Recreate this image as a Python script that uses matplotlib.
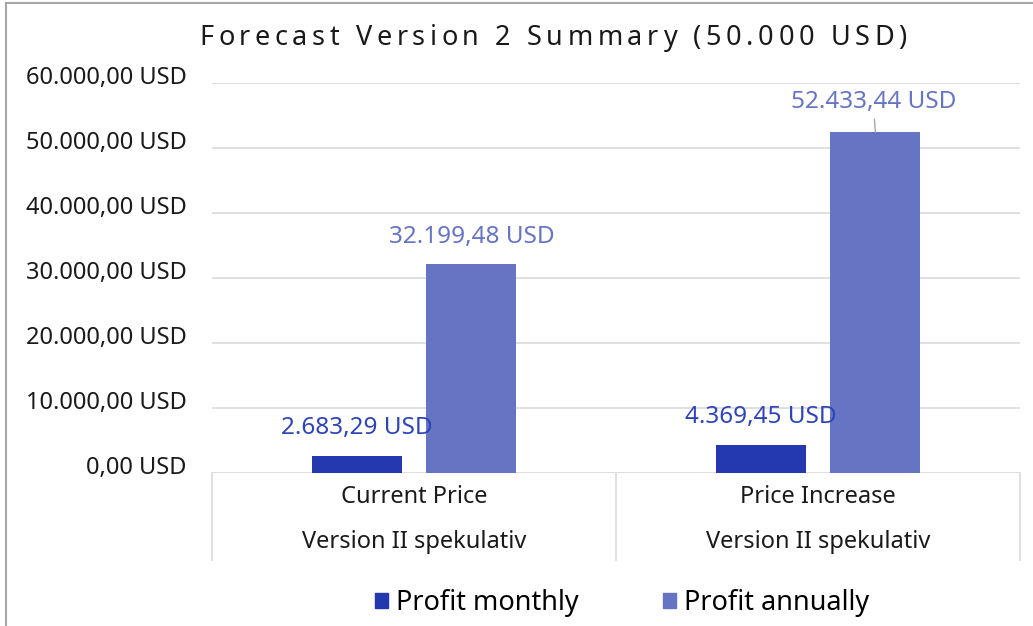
import matplotlib
matplotlib.use('Agg')
import matplotlib.pyplot as plt
from matplotlib.patches import Patch
from matplotlib.ticker import FuncFormatter
from matplotlib.font_manager import FontProperties
import matplotlib.transforms as mtransforms
import numpy as np

plt.rcParams['font.family'] = ['Noto Sans', 'DejaVu Sans']

# data
categories = ['Current Price', 'Price Increase']
subcategories = ['Version II spekulativ', 'Version II spekulativ']
series_names = ['Profit monthly', 'Profit annually']
profit_monthly = [2683.29, 4369.45]
profit_annually = [32199.48, 52433.44]
yticks = [0, 10000, 20000, 30000, 40000, 50000, 60000]
title = 'Forecast Version 2 Summary (50.000 USD)'

c_month = '#2439B0'
c_year = '#6674C4'
grid_c = '#D9D9D9'
txt_c = '#1a1a1a'


def usd(v):
    s = f'{v:,.2f}'.replace(',', 'X').replace('.', ',').replace('X', '.')
    return s + ' USD'


W, H = 1033, 626
fig = plt.figure(figsize=(W / 100, H / 100), dpi=100)

# chart border (left + top visible)
fig.add_artist(plt.Line2D([6 / W, 6 / W], [0, 1 - 3 / H], color='#A6A6A6', lw=1.5,
                          transform=fig.transFigure))
fig.add_artist(plt.Line2D([6 / W, 1], [1 - 3 / H, 1 - 3 / H], color='#A6A6A6', lw=1.5,
                          transform=fig.transFigure))

ax = fig.add_axes([212 / W, 1 - 473 / H, (1020 - 212) / W, (473 - 83) / H])

x = np.arange(len(categories))
bw = 0.223
off = 0.142
ax.bar(x - off, profit_monthly, bw, color=c_month, zorder=3)
ax.bar(x + off, profit_annually, bw, color=c_year, zorder=3)

ax.set_xlim(-0.5, len(categories) - 0.5)
ax.set_ylim(0, 60000)
ax.set_yticks(yticks)
ax.yaxis.set_major_formatter(FuncFormatter(lambda v, p: usd(v)))
ax.tick_params(axis='y', length=0, pad=18, labelsize=17, labelcolor=txt_c)
ax.tick_params(axis='x', length=0, labelbottom=False)
ax.grid(axis='y', color=grid_c, lw=1.2, zorder=0)
for s in ax.spines.values():
    s.set_visible(False)
for lbl in ax.get_yticklabels():
    lbl.set_transform(lbl.get_transform() + mtransforms.ScaledTranslation(0, 6 / 72, fig.dpi_scale_trans))

# data labels
for i in range(len(categories)):
    ax.annotate(usd(profit_monthly[i]), (x[i] - off, profit_monthly[i]),
                xytext=(0, 20), textcoords='offset points', ha='center', va='center',
                fontsize=17.5, color='#2E44B8', zorder=5)
ax.annotate(usd(profit_annually[0]), (x[0] + off, profit_annually[0]),
            xytext=(0, 19), textcoords='offset points', ha='center', va='center',
            fontsize=17.5, color=c_year)
ax.annotate(usd(profit_annually[1]), (x[1] + off, profit_annually[1]),
            xytext=(-1, 22), textcoords='offset points', ha='center', va='center',
            fontsize=17.5, color=c_year,
            arrowprops=dict(arrowstyle='-', color='#A6A6A6', lw=1, shrinkA=2, shrinkB=0,
                            relpos=(0.5, 0)))

# multi-level category axis
ph = 473 - 83
depth = (560 - 473) / ph
for xv in np.arange(-0.5, len(categories), 1.0):
    ax.plot([xv, xv], [0, -depth], color=grid_c, lw=1.2,
            transform=ax.get_xaxis_transform(), clip_on=False)
for i in range(len(categories)):
    ax.text(x[i], -(497 - 473) / ph, categories[i], ha='center', va='center',
            fontsize=17, color=txt_c, transform=ax.get_xaxis_transform())
    ax.text(x[i], -(542 - 473) / ph, subcategories[i], ha='center', va='center',
            fontsize=17, color=txt_c, transform=ax.get_xaxis_transform())

# legend
handles = [Patch(color=c_month), Patch(color=c_year)]
fig.legend(handles, series_names, loc='center', bbox_to_anchor=(0.602, 1 - 603 / H),
           ncol=2, frameon=False, fontsize=19.5, handlelength=0.48, handleheight=0.48,
           handletextpad=0.3, columnspacing=3.1)

# letter-spaced title
renderer = fig.canvas.get_renderer()
prop = FontProperties(family=['Noto Sans', 'DejaVu Sans'], size=19.5)


def tw(s):
    if not s:
        return 0.0
    w, h, d = renderer.get_text_width_height_descent(s, prop, ismath=False)
    return w


total_target = 707.0
n = len(title)
spacing = (total_target - tw(title)) / (n - 1)
x0 = 553 - total_target / 2
for i, ch in enumerate(title):
    if ch == ' ':
        continue
    px = x0 + tw(title[:i]) + i * spacing
    fig.text(px / W, 1 - 38 / H, ch, fontproperties=prop, ha='left', va='center',
             color=txt_c)

fig.savefig('out.png', dpi=100)
